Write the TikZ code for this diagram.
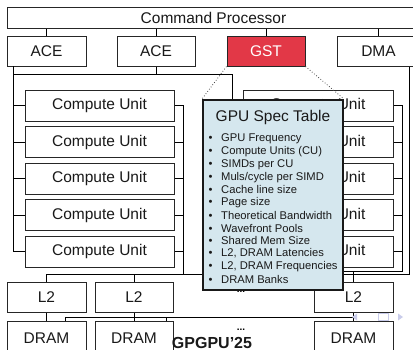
\documentclass[tikz,border=0pt]{standalone}
\usepackage{fontspec}
\setmainfont{Liberation Sans}
\definecolor{gstred}{HTML}{E23847}
\definecolor{specblue}{HTML}{D5E7EE}
\definecolor{navgray}{HTML}{C9CCEA}
\begin{document}
\begin{tikzpicture}[x=1pt,y=-1pt,
  box/.style={draw=black!85, line width=1pt, fill=white, inner sep=0pt,
    font=\fontsize{15.5}{18}\selectfont, text=black!90},
  wire/.style={line width=0.9pt, black},
  item/.style={anchor=west, inner sep=0pt, font=\fontsize{11.2}{13}\selectfont, text=black!90}]
\useasboundingbox (0,0) rectangle (413,349);

% command processor and its four engines
\node[box, minimum width=413, minimum height=21] (cp) at (213.5,17.5) {Command Processor};
\node[box, minimum width=79, minimum height=30] (ace1) at (46.5,51) {ACE};
\node[box, minimum width=78, minimum height=30] (ace2) at (156,51) {ACE};
\node[box, minimum width=78, minimum height=30, fill=gstred, text=white] (gst) at (266,51) {GST};
\node[box, minimum width=83, minimum height=30] (dma) at (378.5,51) {DMA};
\foreach \n in {ace1,ace2,gst,dma}
  \draw[wire] (\n.north) -- (\n.north |- cp.south);

% two columns of compute units
\foreach \i/\y in {1/105.5,2/142,3/178.5,4/215,5/251.5} {
  \node[box, minimum width=149, minimum height=31] (cl\i) at (99.5,\y) {Compute Unit};
  \node[box, minimum width=150, minimum height=31] (cr\i) at (318,\y) {Compute Unit};
}

% L2 slices and DRAM channels
\node[box, minimum width=79, minimum height=30] (l2a) at (46.5,297) {L2};
\node[box, minimum width=78, minimum height=30] (l2b) at (134,297) {L2};
\node[box, minimum width=79, minimum height=30] (l2c) at (353.5,297) {L2};
\node[box, minimum width=79, minimum height=34] (dra) at (46.5,338) {DRAM};
\node[box, minimum width=78, minimum height=34] (drb) at (134,338) {DRAM};
\node[box, minimum width=79, minimum height=34] (drc) at (353.5,338) {DRAM};

% dispatch buses
\coordinate (lbus) at (13,66);
\draw[wire] (lbus) -- (lbus |- cl5.west);
\foreach \i in {1,...,5} \draw[wire] (cl\i.west) -- (cl\i.west -| lbus);
\coordinate (rbus) at (232,74);
\draw[wire] (ace2.south) -- (ace2.south |- rbus);
\draw[wire] (lbus |- rbus) -- (rbus) -- (rbus |- cr5.west);
\foreach \i in {1,...,5} \draw[wire] (cr\i.west) -- (cr\i.west -| rbus);

% compute units to L2
\coordinate (lout) at (183,274);
\draw[wire] (cl1.east) -| (lout);
\foreach \i in {2,...,5} \draw[wire] (cl\i.east) -- (cl\i.east -| lout);
\coordinate (lend) at (250,274);
\draw[wire] (l2a.north |- lout) -- (lend);
\draw[wire] (l2a.north) -- (l2a.north |- lout);
\draw[wire] (l2b.north) -- (l2b.north |- lout);
\coordinate (rout) at (402,271);
\coordinate (rend) at (320,271);
\draw[wire] (cr1.east) -| (rout) -- (rend);
\foreach \i in {2,...,5} \draw[wire] (cr\i.east) -- (cr\i.east -| rout);
\draw[wire] (l2c.north) -- (l2c.north |- rout);
\coordinate (dout) at (409,274);
\coordinate (dend) at (320,274);
\draw[wire] (dma.south -| dout) -- (dout) -- (dend);

% L2 to DRAM and the DRAM crossbar
\foreach \a/\b in {l2a/dra,l2b/drb,l2c/drc} \draw[wire] (\a.south) -- (\b.north);
\coordinate (xl) at (65,317);
\coordinate (xm) at (166,317);
\coordinate (xr) at (354,317);
\draw[wire] (xl) -- (xr);
\draw[wire] (xl) -- (xl |- dra.north);
\draw[wire] (xm) -- (xm |- drb.north);

\node[font=\bfseries\fontsize{10}{12}\selectfont] (dotsa) at (241,292) {...};
\node[font=\bfseries\fontsize{10}{12}\selectfont] (dotsb) at (241,330) {...};

% spec table callout
\node[draw=black!90, line width=2pt, fill=specblue, minimum width=140, minimum height=190, inner sep=0pt] (spec) at (273,195) {};
\node[font=\fontsize{15.5}{18}\selectfont, text=black!90] (spect) at (273,117) {GPU Spec Table};
\foreach \t [count=\n] in {GPU Frequency, Compute Units (CU), SIMDs per CU, Muls/cycle per SIMD,
    Cache line size, Page size, Theoretical Bandwidth, Wavefront Pools, Shared Mem Size,
    {L2, DRAM Latencies}, {L2, DRAM Frequencies}, DRAM Banks}
  \node[item] (it\n) at (208.5,{139+12.73*(\n-1)}) {\makebox[12.5pt][l]{\textbullet}\t};
\draw[dotted, line width=0.8pt, black!70] (gst.south west) -- (spec.north west);
\draw[dotted, line width=0.8pt, black!70] (gst.south east) -- (spec.north east);

% footer
\node[anchor=base, font=\bfseries\fontsize{16}{19}\selectfont, text=black!90] (conf) at (212,348) {GPGPU’25};

% navigation symbols
\fill[navgray] (352,317) -- (357,313.5) -- (357,320.5) -- cycle;
\draw[navgray, line width=0.8pt] (378,313) rectangle (388,320);
\fill[navgray] (403,317) -- (398,313.5) -- (398,320.5) -- cycle;
\end{tikzpicture}
\end{document}
